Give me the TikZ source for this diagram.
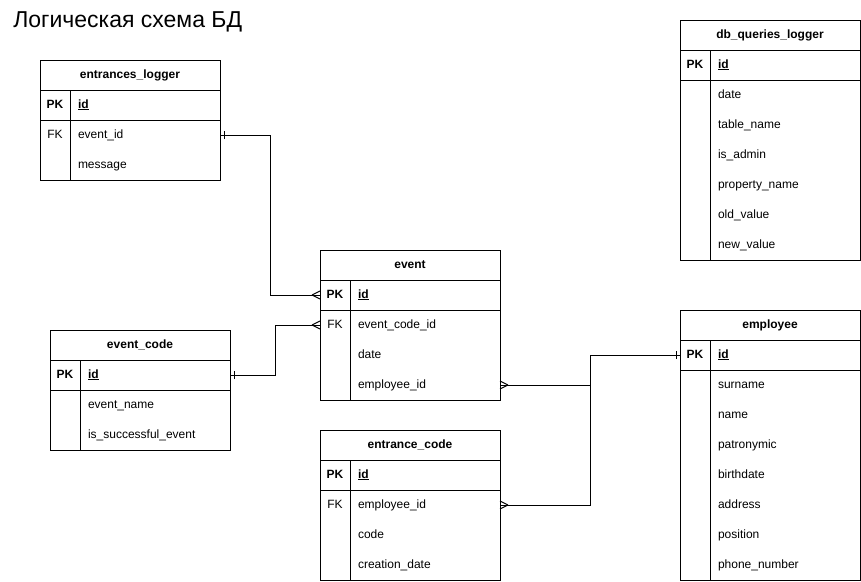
\documentclass[tikz,border=0pt]{standalone}
\usepackage{fontspec}
\setmainfont{Liberation Sans}
\usetikzlibrary{positioning,decorations.markings}
\tikzset{%
    every node/.style={font=\fontsize{12}{14}\selectfont,outer sep=0pt},
    head/.style={draw,anchor=north west,minimum width=180pt,minimum height=30pt,
        inner sep=0pt,font=\fontsize{12}{14}\selectfont\bfseries},
    keycell/.style={minimum width=30pt,minimum height=30pt,inner sep=0pt,
        text height=9pt,text depth=3pt},
    pkcell/.style={keycell,draw,font=\fontsize{12}{14}\selectfont\bfseries},
    fld/.style={minimum height=30pt,inner xsep=8pt,inner ysep=0pt,text width=134pt,
        align=left,text height=9pt,text depth=3pt},
    pkf/.style={fld,draw,font=\fontsize{12}{14}\selectfont\bfseries},
    one start/.style={postaction={decorate,decoration={markings,
        mark=at position 0 with {\draw (4pt,-4pt) -- (4pt,4pt);}}}},
    one end/.style={postaction={decorate,decoration={markings,
        mark=at position 1 with {\draw (-4pt,-4pt) -- (-4pt,4pt);}}}},
    many start/.style={postaction={decorate,decoration={markings,
        mark=at position 0 with {\draw (8pt,0pt) -- (0pt,4pt) (8pt,0pt) -- (0pt,-4pt);}}}},
    many end/.style={postaction={decorate,decoration={markings,
        mark=at position 1 with {\draw (-8pt,0pt) -- (0pt,4pt) (-8pt,0pt) -- (0pt,-4pt);}}}}
}

\begin{document}
\begin{tikzpicture}[x=1pt,y=-1pt,line width=1pt]
    \useasboundingbox (0,0) rectangle (861,581);
    \node[anchor=base west,font=\fontsize{23}{27}\selectfont] (title) at (10,27.5) {Логическая схема БД};
    %%%%% entrances_logger
    \node[head] (el) at (40,60) {entrances\_logger};
    \node[pkcell,anchor=north west] (el-pk) at (el.south west) {PK};
    \node[pkf,right=0pt of el-pk] (el-id) {\underline{id}};
    \node[keycell,below=0pt of el-pk] (el-fk) {FK};
    \node[fld,right=0pt of el-fk] (el-evid) {event\_id};
    \node[fld,below=0pt of el-evid] (el-msg) {message};
    \draw (el-pk.south west) rectangle (el-msg.south east);
    \draw (el-pk.south east) -- (el-pk.south east |- el-msg.south);
    %%%%% event
    \node[head] (ev) at (320,250) {event};
    \node[pkcell,anchor=north west] (ev-pk) at (ev.south west) {PK};
    \node[pkf,right=0pt of ev-pk] (ev-id) {\underline{id}};
    \node[keycell,below=0pt of ev-pk] (ev-fk) {FK};
    \node[fld,right=0pt of ev-fk] (ev-ecid) {event\_code\_id};
    \node[fld,below=0pt of ev-ecid] (ev-date) {date};
    \node[fld,below=0pt of ev-date] (ev-emp) {employee\_id};
    \draw (ev-pk.south west) rectangle (ev-emp.south east);
    \draw (ev-pk.south east) -- (ev-pk.south east |- ev-emp.south);
    %%%%% event_code
    \node[head] (ec) at (50,330) {event\_code};
    \node[pkcell,anchor=north west] (ec-pk) at (ec.south west) {PK};
    \node[pkf,right=0pt of ec-pk] (ec-id) {\underline{id}};
    \node[fld,below=0pt of ec-id] (ec-name) {event\_name};
    \node[fld,below=0pt of ec-name] (ec-succ) {is\_successful\_event};
    \draw (ec-pk.south west) rectangle (ec-succ.south east);
    \draw (ec-pk.south east) -- (ec-pk.south east |- ec-succ.south);
    %%%%% entrance_code
    \node[head] (enc) at (320,430) {entrance\_code};
    \node[pkcell,anchor=north west] (enc-pk) at (enc.south west) {PK};
    \node[pkf,right=0pt of enc-pk] (enc-id) {\underline{id}};
    \node[keycell,below=0pt of enc-pk] (enc-fk) {FK};
    \node[fld,right=0pt of enc-fk] (enc-emp) {employee\_id};
    \node[fld,below=0pt of enc-emp] (enc-code) {code};
    \node[fld,below=0pt of enc-code] (enc-date) {creation\_date};
    \draw (enc-pk.south west) rectangle (enc-date.south east);
    \draw (enc-pk.south east) -- (enc-pk.south east |- enc-date.south);
    %%%%% db_queries_logger
    \node[head] (db) at (680,20) {db\_queries\_logger};
    \node[pkcell,anchor=north west] (db-pk) at (db.south west) {PK};
    \node[pkf,right=0pt of db-pk] (db-id) {\underline{id}};
    \node[fld,below=0pt of db-id] (db-date) {date};
    \node[fld,below=0pt of db-date] (db-tbl) {table\_name};
    \node[fld,below=0pt of db-tbl] (db-adm) {is\_admin};
    \node[fld,below=0pt of db-adm] (db-prop) {property\_name};
    \node[fld,below=0pt of db-prop] (db-old) {old\_value};
    \node[fld,below=0pt of db-old] (db-new) {new\_value};
    \draw (db-pk.south west) rectangle (db-new.south east);
    \draw (db-pk.south east) -- (db-pk.south east |- db-new.south);
    %%%%% employee
    \node[head] (emp) at (680,310) {employee};
    \node[pkcell,anchor=north west] (emp-pk) at (emp.south west) {PK};
    \node[pkf,right=0pt of emp-pk] (emp-id) {\underline{id}};
    \node[fld,below=0pt of emp-id] (emp-sur) {surname};
    \node[fld,below=0pt of emp-sur] (emp-name) {name};
    \node[fld,below=0pt of emp-name] (emp-pat) {patronymic};
    \node[fld,below=0pt of emp-pat] (emp-bd) {birthdate};
    \node[fld,below=0pt of emp-bd] (emp-addr) {address};
    \node[fld,below=0pt of emp-addr] (emp-pos) {position};
    \node[fld,below=0pt of emp-pos] (emp-ph) {phone\_number};
    \draw (emp-pk.south west) rectangle (emp-ph.south east);
    \draw (emp-pk.south east) -- (emp-pk.south east |- emp-ph.south);
    %%%%% relations
    \draw[one start,many end] (el-evid.east) -- ++(50,0) |- (ev-pk.west);
    \draw[one start,many end] (ec-id.east) -- ++(45,0) |- (ev-fk.west);
    \draw[many start,one end] (ev-emp.east) -- ++(90,0) |- (emp-pk.west);
    \draw[many start] (enc-emp.east) -- ++(90,0) |- (emp-pk.west);
\end{tikzpicture}
\end{document}
